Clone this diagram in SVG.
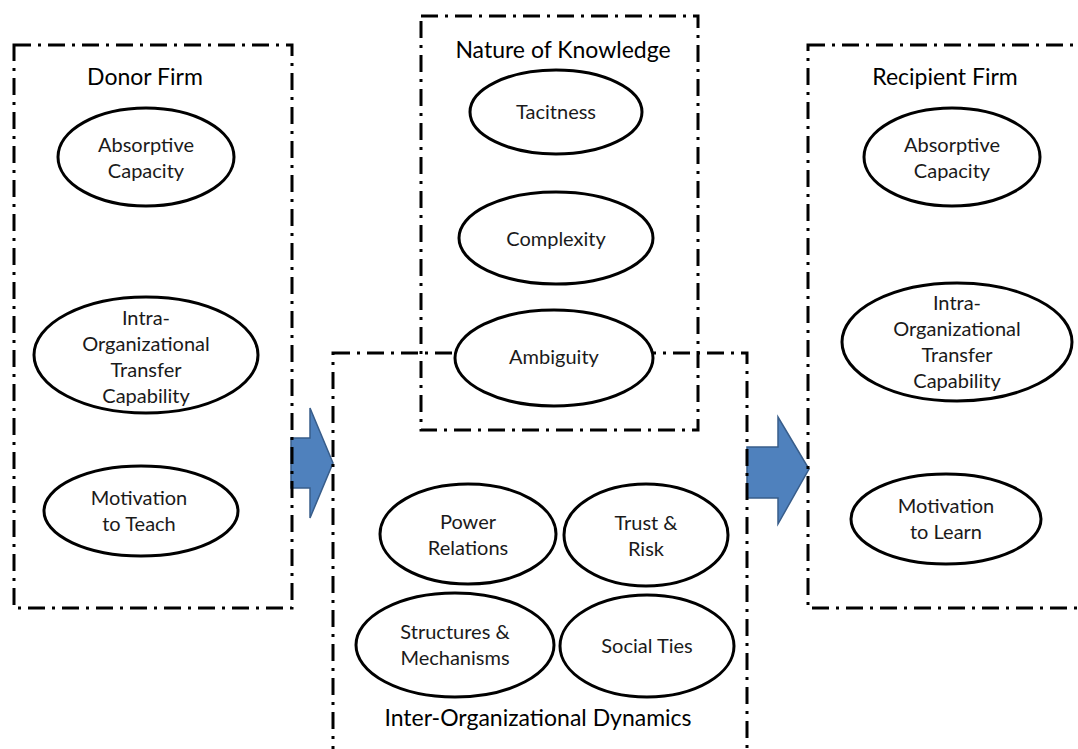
<svg xmlns="http://www.w3.org/2000/svg" width="1078" height="749" viewBox="0 0 1078 749">
<style>
.box{fill:none;stroke:#000;stroke-width:3;stroke-dasharray:17 7 3 7}
.el{fill:#fff;stroke:#000;stroke-width:3}
.t{font-family:Lato,"Open Sans",sans-serif;font-size:20px;fill:#1a1a1a;text-anchor:middle}
.h{font-family:Lato,"Open Sans",sans-serif;font-size:23px;fill:#000;text-anchor:middle}
.arr{fill:#4f81bd;stroke:#385d8a;stroke-width:1.5}
</style>
<rect width="1078" height="749" fill="#fff"/>
<g id="connectors">
<polygon class="arr" points="291,438 310,438 310,408 333,463 310,518 310,488 291,488"/>
<polygon class="arr" points="747,447 778,447 778,417 809,469 778,524 778,498 747,498"/>
</g>
<g id="donor-firm">
<rect class="box" x="14" y="45" width="278" height="563"/>
<text class="h" x="145" y="85">Donor Firm</text>
</g>
<g id="recipient-firm">
<rect class="box" x="808" y="45" width="290" height="563"/>
<text class="h" x="945" y="85">Recipient Firm</text>
</g>
<g id="nature-of-knowledge">
<rect class="box" x="421" y="16" width="277" height="414"/>
<text class="h" x="563" y="58">Nature of Knowledge</text>
</g>
<g id="inter-org">
<rect class="box" x="333" y="353" width="414" height="420"/>
<text class="h" x="538" y="726">Inter-Organizational Dynamics</text>
</g>
<g id="donor-absorptive">
<ellipse class="el" cx="146" cy="157" rx="88" ry="49"/>
<text class="t" x="146" y="152">Absorptive</text>
<text class="t" x="146" y="178">Capacity</text>
</g>
<g id="donor-intra">
<ellipse class="el" cx="146" cy="355" rx="112" ry="58"/>
<text class="t" x="146" y="325">Intra-</text>
<text class="t" x="146" y="351">Organizational</text>
<text class="t" x="146" y="377">Transfer</text>
<text class="t" x="146" y="403">Capability</text>
</g>
<g id="motivation-teach">
<ellipse class="el" cx="141" cy="511" rx="97" ry="45"/>
<text class="t" x="139" y="505">Motivation</text>
<text class="t" x="139" y="531">to Teach</text>
</g>
<g id="tacitness">
<ellipse class="el" cx="556" cy="112" rx="86" ry="42"/>
<text class="t" x="556" y="119">Tacitness</text>
</g>
<g id="complexity">
<ellipse class="el" cx="556" cy="238" rx="97" ry="46"/>
<text class="t" x="556" y="246">Complexity</text>
</g>
<g id="ambiguity">
<ellipse class="el" cx="554" cy="358" rx="99" ry="48"/>
<text class="t" x="554" y="364">Ambiguity</text>
</g>
<g id="power-relations">
<ellipse class="el" cx="468" cy="534" rx="88" ry="50"/>
<text class="t" x="468" y="529">Power</text>
<text class="t" x="468" y="555">Relations</text>
</g>
<g id="trust-risk">
<ellipse class="el" cx="646" cy="535" rx="82" ry="51"/>
<text class="t" x="646" y="530">Trust &amp;</text>
<text class="t" x="646" y="556">Risk</text>
</g>
<g id="structures">
<ellipse class="el" cx="455" cy="645" rx="99" ry="52"/>
<text class="t" x="455" y="639">Structures &amp;</text>
<text class="t" x="455" y="665">Mechanisms</text>
</g>
<g id="social-ties">
<ellipse class="el" cx="647" cy="646" rx="87" ry="51"/>
<text class="t" x="647" y="653">Social Ties</text>
</g>
<g id="recipient-absorptive">
<ellipse class="el" cx="952" cy="157" rx="88" ry="49"/>
<text class="t" x="952" y="152">Absorptive</text>
<text class="t" x="952" y="178">Capacity</text>
</g>
<g id="recipient-intra">
<ellipse class="el" cx="957" cy="342" rx="115" ry="59"/>
<text class="t" x="957" y="310">Intra-</text>
<text class="t" x="957" y="336">Organizational</text>
<text class="t" x="957" y="362">Transfer</text>
<text class="t" x="957" y="388">Capability</text>
</g>
<g id="motivation-learn">
<ellipse class="el" cx="946" cy="519" rx="95" ry="45"/>
<text class="t" x="946" y="513">Motivation</text>
<text class="t" x="946" y="539">to Learn</text>
</g>
</svg>
